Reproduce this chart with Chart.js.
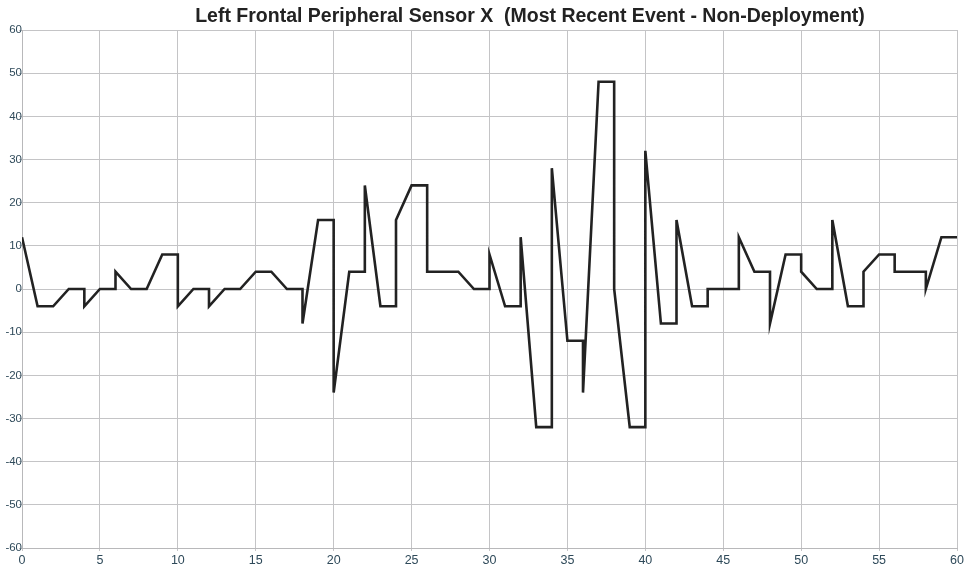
<!DOCTYPE html>
<html>
<head>
<meta charset="utf-8">
<script src="https://cdn.jsdelivr.net/npm/chart.js@4.4.1/dist/chart.umd.min.js"></script>
<style>
  html, body { margin: 0; padding: 0; background: #fff; }
  #wrap { width: 966px; height: 566px; position: relative; }
</style>
</head>
<body>
<div id="wrap"><canvas id="chart"></canvas></div>
<script>
const chartTitle = 'Left Frontal Peripheral Sensor X  (Most Recent Event - Non-Deployment)';

// sample times (repeated x = vertical step)
const timeValues = [
  0, 1, 2, 3, 4, 4, 5, 6, 6, 7, 8, 9, 10, 10, 11, 12, 12, 13, 14, 15, 16, 17, 18, 18,
  19, 20, 20, 21, 22, 22, 23, 24, 24, 25, 26, 26, 27, 28, 29, 30, 30, 31, 32, 32,
  33, 34, 34, 35, 36, 36, 37, 38, 38, 39, 40, 40, 41, 42, 42, 43, 44, 44, 45, 46, 46,
  47, 48, 48, 49, 50, 50, 51, 52, 52, 53, 54, 54, 55, 56, 56, 57, 58, 58, 59, 60
];
const sensorValues = [
  12, -4, -4, 0, 0, -4, 0, 0, 4, 0, 0, 8, 8, -4, 0, 0, -4, 0, 0, 4, 4, 0, 0, -8,
  16, 16, -24, 4, 4, 24, -4, -4, 16, 24, 24, 4, 4, 4, 0, 0, 8, -4, -4, 12,
  -32, -32, 28, -12, -12, -24, 48, 48, 0, -32, -32, 32, -8, -8, 16, -4, -4, 0, 0, 0, 12,
  4, 4, -8, 8, 8, 4, 0, 0, 16, -4, -4, 4, 8, 8, 4, 4, 4, 0, 12, 12
];

const xMin = 0, xMax = 60, xStep = 5;
const yMin = -60, yMax = 60, yStep = 10;

const points = timeValues.map((t, i) => ({ x: t, y: sensorValues[i] }));

const gridColor = '#c4c4c6';
const tickColor = '#2f4a5a';

// title sits right of centre in the original, so draw it ourselves
const titlePlugin = {
  id: 'offsetTitle',
  afterDraw(chart) {
    const ctx = chart.ctx;
    ctx.save();
    ctx.font = "bold 19.5px 'Liberation Sans', Arial, sans-serif";
    ctx.fillStyle = '#222';
    ctx.textAlign = 'center';
    ctx.textBaseline = 'alphabetic';
    ctx.fillText(chartTitle, 530, 22);
    ctx.restore();
  }
};

new Chart(document.getElementById('chart'), {
  type: 'scatter',
  data: {
    datasets: [{
      data: points,
      showLine: true,
      borderColor: '#222222',
      borderWidth: 2.6,
      pointRadius: 0,
      pointHoverRadius: 0,
      tension: 0,
      fill: false
    }]
  },
  options: {
    responsive: true,
    maintainAspectRatio: false,
    animation: false,
    layout: { padding: { top: 30, right: 9, left: 0, bottom: 0 } },
    scales: {
      x: {
        type: 'linear',
        min: xMin,
        max: xMax,
        afterFit: (s) => { s.height = 18; },
        ticks: {
          stepSize: xStep,
          color: tickColor,
          padding: 2,
          maxRotation: 0,
          font: { family: "'Liberation Sans', Arial, sans-serif", size: 12.5 }
        },
        grid: { color: gridColor, tickLength: 3 },
        border: { color: '#b8b8ba' }
      },
      y: {
        min: yMin,
        max: yMax,
        afterFit: (s) => { s.width = 22; },
        ticks: {
          stepSize: yStep,
          color: tickColor,
          padding: -3,
          font: { family: "'Liberation Sans', Arial, sans-serif", size: 11.5 }
        },
        grid: { color: gridColor, tickLength: 3 },
        border: { color: '#b8b8ba' }
      }
    },
    plugins: {
      legend: { display: false },
      title: { display: false },
      tooltip: { enabled: false }
    }
  },
  plugins: [titlePlugin]
});
</script>
</body>
</html>
